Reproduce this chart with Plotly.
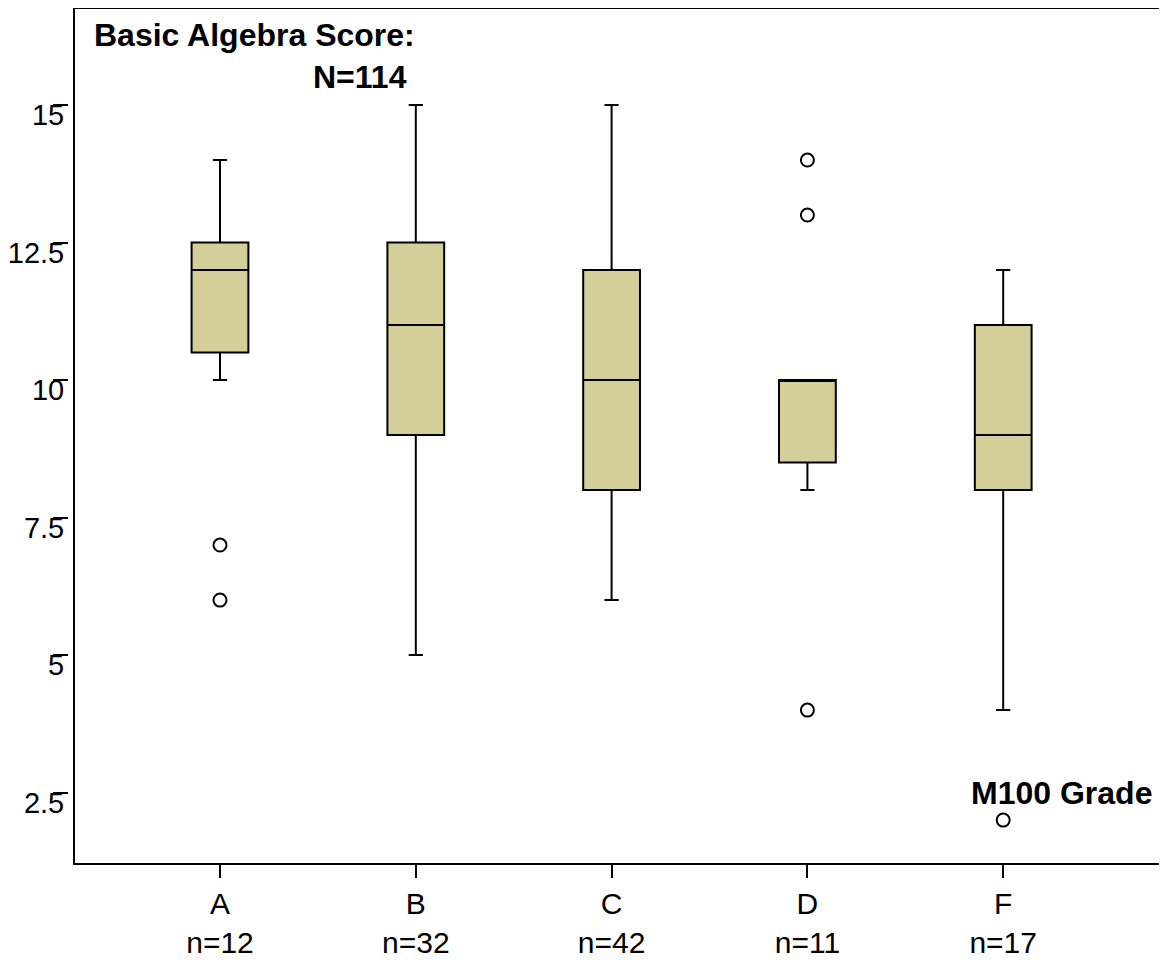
import plotly.graph_objects as go

categories = ["A", "B", "C", "D", "F"]
n_counts = [12, 32, 42, 11, 17]
q1_vals = [10.5, 9, 8, 8.5, 8]
median_vals = [12, 11, 10, 10, 9]
q3_vals = [12.5, 12.5, 12, 10, 11]
lower_whisker = [10, 5, 6, 8, 4]
upper_whisker = [14, 15, 15, 10, 12]
outlier_cats = ["A", "A", "D", "D", "D", "F"]
outlier_vals = [7, 6, 14, 13, 4, 2]
y_tick_vals = [2.5, 5, 7.5, 10, 12.5, 15]
y_tick_text = ["2.5", "5", "7.5", "10", "12.5", "15"]

FONT = "Liberation Sans, Arial, sans-serif"
OFF = 8  # browser default body margin
W, H = 1167 - OFF, 960 - OFF
# page-pixel layout targets
plot_left_pg, plot_right_pg, plot_top_pg, plot_bot_pg = 74.7, 1161.7, 9, 862.7
tick_axis_pg = 68
ML = tick_axis_pg - OFF
MR = W - (plot_right_pg - OFF)
MT = plot_top_pg - OFF
MB = H - (plot_bot_pg - OFF)
plot_w = W - ML - MR
plot_h = H - MT - MB


def px_x(page_x):
    return (page_x - OFF - ML) / plot_w


def px_y(page_y):
    return 1 - (page_y - OFF - MT) / plot_h


fig = go.Figure()
fig.add_trace(go.Box(
    x=categories, q1=q1_vals, median=median_vals, q3=q3_vals,
    lowerfence=lower_whisker, upperfence=upper_whisker,
    fillcolor="#d4cf99", line=dict(color="black", width=2),
    width=0.29, whiskerwidth=0.25, boxpoints=False, showlegend=False,
    hoverinfo="skip",
))
fig.add_trace(go.Scatter(
    x=outlier_cats, y=outlier_vals, mode="markers",
    marker=dict(symbol="circle-open", size=13, color="black",
                line=dict(color="black", width=2)),
    showlegend=False,
))
# invisible trace so yaxis2 (the offset tick axis) is rendered
fig.add_trace(go.Scatter(x=[categories[0]], y=[y_tick_vals[0]], yaxis="y2",
                         mode="markers", marker=dict(opacity=0),
                         showlegend=False, hoverinfo="skip"))

y_range = [1.22, 16.746]

fig.update_layout(
    width=W, height=H,
    margin=dict(l=ML, r=MR, t=MT, b=MB, autoexpand=False),
    paper_bgcolor="white", plot_bgcolor="white",
    font=dict(family=FONT, size=30, color="black"),
    xaxis=dict(
        domain=[px_x(plot_left_pg), 1],
        type="category", categoryorder="array", categoryarray=categories,
        range=[-0.742, 4.811],
        tickvals=categories,
        ticktext=[f"{c}<br>n={n}" for c, n in zip(categories, n_counts)],
        ticks="outside", ticklen=13, tickwidth=2, tickcolor="black",
        showline=True, linecolor="black", linewidth=1.5, mirror=True,
        showgrid=False, zeroline=False, automargin=False,
        tickfont=dict(size=30),
    ),
    yaxis=dict(
        range=y_range,
        showline=True, linecolor="black", linewidth=1.5, mirror=True,
        showgrid=False, zeroline=False, showticklabels=False, ticks="",
        tickvals=y_tick_vals, automargin=False,
    ),
    yaxis2=dict(
        overlaying="y", matches="y", anchor="free", position=0, side="left",
        range=y_range,
        tickvals=y_tick_vals, ticktext=y_tick_text,
        ticks="outside", ticklen=15, tickwidth=1.5, tickcolor="black",
        showline=False, showgrid=False, zeroline=False, automargin=False,
        ticklabelstandoff=-17, ticklabelshift=10,
        tickfont=dict(size=29),
    ),
    annotations=[
        dict(text="<b>Basic Algebra Score:</b>", xref="paper", yref="paper",
             x=px_x(92), y=px_y(35),
             xanchor="left", yanchor="middle", showarrow=False,
             font=dict(size=32)),
        dict(text="<b>N=114</b>", xref="paper", yref="paper",
             x=px_x(409), y=px_y(77),
             xanchor="right", yanchor="middle", showarrow=False,
             font=dict(size=32)),
        dict(text="<b>M100 Grade</b>", xref="paper", yref="paper",
             x=px_x(1154), y=px_y(793),
             xanchor="right", yanchor="middle", showarrow=False,
             font=dict(size=32)),
    ],
)

fig.write_html("out.html")
